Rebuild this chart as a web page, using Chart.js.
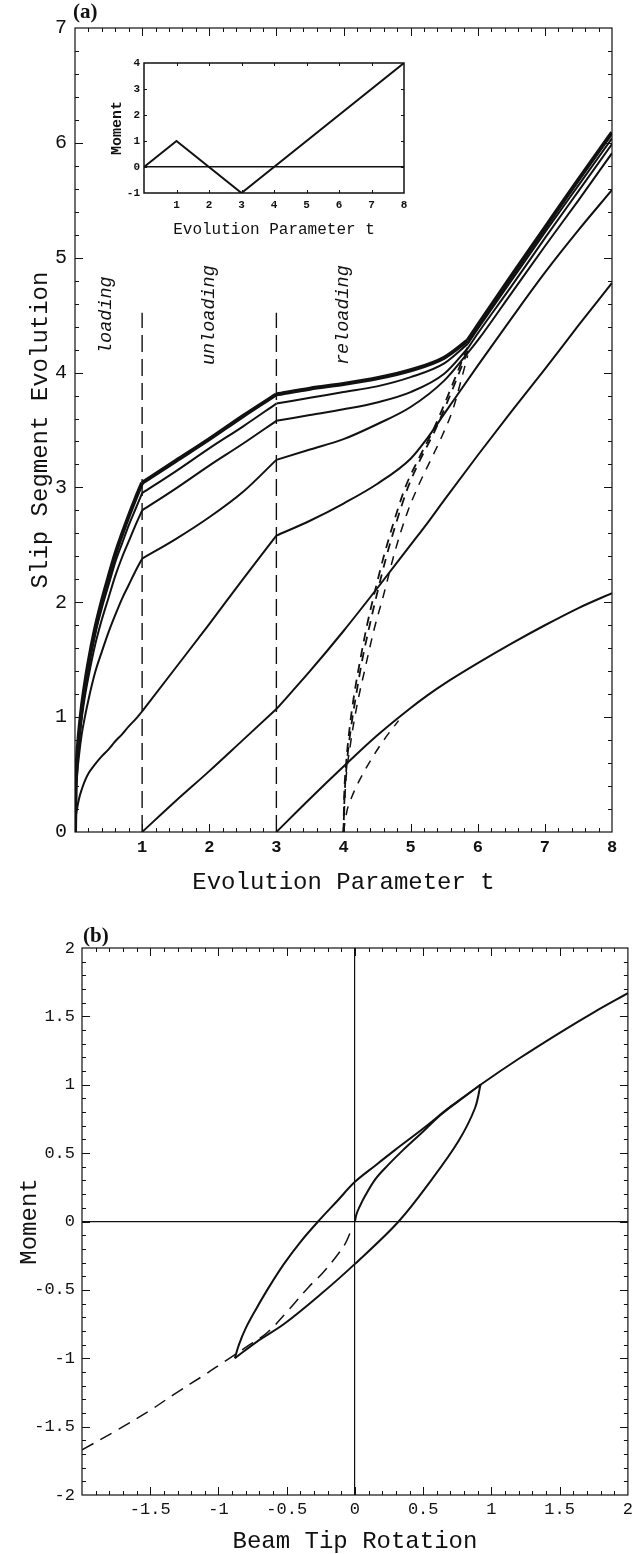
<!DOCTYPE html>
<html>
<head>
<meta charset="utf-8">
<script src="https://cdn.jsdelivr.net/npm/chart.js@4/dist/chart.umd.min.js"></script>
<style>
  html, body { margin: 0; padding: 0; background: #fff; }
  #wrap { position: relative; width: 637px; height: 1554px; }
  canvas { position: absolute; left: 0; display: block; }
  #slipChart { top: 0; }
  #insetChart { left: 100px; top: 45px; }
  #momentChart { top: 905px; }
</style>
</head>
<body>
<div id="wrap">
  <canvas id="slipChart" width="637" height="905"></canvas>
  <canvas id="insetChart" width="315" height="200"></canvas>
  <canvas id="momentChart" width="637" height="649"></canvas>
</div>
<script>
const INK = '#111';
Chart.defaults.font.family = "'Liberation Mono', 'Courier New', monospace";
Chart.defaults.color = INK;

// ---- panel (a): slip segment evolution vs t ----
const tLoad   = [0, 0.01, 0.03, 0.06, 0.1, 0.15, 0.2, 0.3, 0.4, 0.5, 0.6, 0.7, 0.8, 0.9, 1];
const tUnload = [1, 1.5, 2, 2.5, 3];
const tReload = [3, 3.5, 4, 4.5, 5, 5.5, 5.85];
const tFinal  = [5.85, 6, 6.5, 7, 7.5, 8];
const tLate   = [3, 3.5, 4, 4.5, 5, 5.25, 5.5, 6, 6.5, 7, 7.5, 8];

const seg1Load   = [0, 0.38, 0.63, 0.86, 1.08, 1.29, 1.47, 1.77, 2.01, 2.22, 2.42, 2.59, 2.75, 2.90, 3.04];
const seg1Unload = [3.04, 3.23, 3.42, 3.62, 3.81];
const seg1Reload = [3.81, 3.86, 3.90, 3.95, 4.02, 4.13, 4.28];
const seg1Final  = [4.28, 4.41, 4.84, 5.26, 5.68, 6.09];

const seg2Load   = [0, 0.37, 0.61, 0.83, 1.05, 1.25, 1.43, 1.72, 1.95, 2.15, 2.35, 2.51, 2.67, 2.81, 2.95];
const seg2Unload = [2.95, 3.14, 3.34, 3.53, 3.73];
const seg2Reload = [3.73, 3.78, 3.83, 3.88, 3.96, 4.08, 4.25];
const seg2Final  = [4.25, 4.38, 4.80, 5.22, 5.63, 6.04];

const seg3Load   = [0, 0.35, 0.58, 0.79, 0.99, 1.19, 1.35, 1.63, 1.85, 2.04, 2.23, 2.39, 2.53, 2.67, 2.80];
const seg3Unload = [2.80, 2.99, 3.19, 3.38, 3.58];
const seg3Reload = [3.58, 3.63, 3.68, 3.74, 3.83, 3.99, 4.21];
const seg3Final  = [4.21, 4.34, 4.75, 5.17, 5.58, 5.99];

const seg4Load   = [0, 0.30, 0.49, 0.67, 0.85, 1.01, 1.15, 1.39, 1.57, 1.74, 1.89, 2.03, 2.15, 2.27, 2.38];
const seg4Unload = [2.38, 2.55, 2.74, 2.96, 3.24];
const seg4Reload = [3.24, 3.33, 3.42, 3.55, 3.70, 3.93, 4.17];
const seg4Final  = [4.17, 4.28, 4.69, 5.10, 5.50, 5.91];

const seg5Load   = [0, 0.12, 0.20, 0.29, 0.37, 0.45, 0.51, 0.59, 0.66, 0.72, 0.79, 0.85, 0.92, 0.98, 1.05];
const seg5Unload = [1.05, 1.43, 1.81, 2.20, 2.58];
const seg5Late   = [2.58, 2.71, 2.86, 3.03, 3.25, 3.43, 3.64, 4.06, 4.47, 4.87, 5.24, 5.59];

const seg6Unload = [0, 0.27, 0.53, 0.80, 1.07];
const seg6Late   = [1.07, 1.40, 1.75, 2.12, 2.50, 2.69, 2.89, 3.28, 3.66, 4.03, 4.41, 4.78];

const seg7Late   = [0, 0.29, 0.57, 0.84, 1.08, 1.19, 1.29, 1.47, 1.64, 1.80, 1.95, 2.08];

// dashed reloading branches starting at t = 4
const tDashA = [4.00, 4.01, 4.04, 4.09, 4.16, 4.25, 4.35, 4.47, 4.60, 4.75, 4.92, 5.12, 5.32, 5.50, 5.66, 5.85];
const vDashA = [0, 0.30, 0.60, 0.90, 1.20, 1.50, 1.80, 2.10, 2.40, 2.70, 3.00, 3.25, 3.48, 3.72, 3.95, 4.22];
const tDashB = [4.00, 4.015, 4.05, 4.11, 4.19, 4.28, 4.39, 4.51, 4.64, 4.79, 4.96, 5.15, 5.35, 5.53, 5.69, 5.86];
const vDashB = [0, 0.30, 0.60, 0.90, 1.20, 1.50, 1.80, 2.10, 2.40, 2.70, 3.00, 3.25, 3.48, 3.72, 3.95, 4.20];
const tDashC = [4.00, 4.03, 4.10, 4.20, 4.32, 4.45, 4.60, 4.77, 4.95, 5.12, 5.30, 5.47, 5.63, 5.76, 5.85];
const vDashC = [0, 0.40, 0.75, 1.10, 1.42, 1.75, 2.07, 2.45, 2.78, 3.02, 3.24, 3.45, 3.68, 3.95, 4.15];
const tDashD = [4.00, 4.05, 4.12, 4.22, 4.40, 4.60, 4.82];
const vDashD = [0, 0.18, 0.30, 0.43, 0.62, 0.80, 0.97];

const dividerTimes = [1, 3];
const dividerTop = 4.52;
const phaseNames = ['loading', 'unloading', 'reloading'];
const phaseAt = [0.46, 2.0, 4.0];
const phaseLevel = 4.5;

// ---- inset: moment history ----
const insetT = [0, 1, 3, 8];
const insetMoment = [0, 1, -1, 4];

// ---- panel (b): moment vs beam tip rotation ----
const virginRot = [0, 0.01, 0.03, 0.07, 0.15, 0.24, 0.35, 0.48, 0.64, 0.80, 0.92, 1.2, 1.5, 1.75, 2.0];
const virginMom = [0, 0.05, 0.10, 0.18, 0.31, 0.41, 0.52, 0.64, 0.79, 0.91, 1.0, 1.19, 1.38, 1.53, 1.67];
const unloadRot = [0.92, 0.88, 0.76, 0.565, 0.32, 0.0, -0.26, -0.52, -0.72, -0.88];
const unloadMom = [1.0, 0.83, 0.59, 0.31, 0.0, -0.31, -0.54, -0.75, -0.88, -1.0];
const reloadRot = [-0.88, -0.85, -0.80, -0.73, -0.63, -0.52, -0.40, -0.27, -0.13, 0.0, 0.15, 0.29, 0.50, 0.70, 0.92];
const reloadMom = [-1.0, -0.90, -0.78, -0.65, -0.48, -0.31, -0.15, 0.0, 0.15, 0.29, 0.41, 0.52, 0.68, 0.84, 1.0];
const mirrorRot = [-2.0, -1.75, -1.5, -1.32, -1.1, -0.98, -0.8, -0.64, -0.48, -0.34, -0.24, -0.14, -0.07, -0.03];
const mirrorMom = [-1.67, -1.53, -1.38, -1.26, -1.12, -1.04, -0.92, -0.81, -0.64, -0.48, -0.38, -0.26, -0.16, -0.07];

const pts = (xs, ys) => xs.map((x, i) => ({ x, y: ys[i] }));
const line = (xs, ys, width = 2, extra = {}) => Object.assign({
  data: pts(xs, ys),
  borderColor: INK,
  borderWidth: width,
  pointRadius: 0,
  showLine: true,
  fill: false,
  cubicInterpolationMode: 'monotone'
}, extra);

// frame with inward ticks on all four sides
const frameTicks = {
  id: 'frameTicks',
  afterDatasetsDraw(chart, args, o) {
    const { ctx, chartArea: a } = chart;
    const xs = chart.scales.x, ys = chart.scales.y;
    ctx.save();
    ctx.strokeStyle = INK;
    ctx.lineWidth = o.width || 1;
    ctx.strokeRect(a.left, a.top, a.right - a.left, a.bottom - a.top);
    ctx.lineWidth = 1;
    const marks = (scale, step, len, horizontal) => {
      const n = Math.round((scale.max - scale.min) / step);
      for (let i = 1; i < n; i++) {
        const p = Math.round(scale.getPixelForValue(scale.min + i * step)) + 0.5;
        ctx.beginPath();
        if (horizontal) {
          ctx.moveTo(p, a.bottom); ctx.lineTo(p, a.bottom - len);
          ctx.moveTo(p, a.top); ctx.lineTo(p, a.top + len);
        } else {
          ctx.moveTo(a.left, p); ctx.lineTo(a.left + len, p);
          ctx.moveTo(a.right, p); ctx.lineTo(a.right - len, p);
        }
        ctx.stroke();
      }
    };
    if (o.xMinor) marks(xs, o.xMinor, o.minor, true);
    marks(xs, o.xMajor, o.major, true);
    if (o.yMinor) marks(ys, o.yMinor, o.minor, false);
    marks(ys, o.yMajor, o.major, false);
    ctx.restore();
  }
};

const panelTag = {
  id: 'panelTag',
  afterDraw(chart, args, o) {
    if (!o.text) return;
    const { ctx, chartArea: a } = chart;
    ctx.save();
    ctx.font = "bold 21px 'Liberation Serif', serif";
    ctx.fillStyle = INK;
    ctx.textBaseline = 'bottom';
    ctx.fillText(o.text, a.left + o.dx, a.top + o.dy);
    ctx.restore();
  }
};

const phaseLabels = {
  id: 'phaseLabels',
  afterDatasetsDraw(chart, args, o) {
    if (!o.names) return;
    const { ctx, scales: { x, y } } = chart;
    ctx.save();
    ctx.font = "italic 18.5px 'Liberation Mono', monospace";
    ctx.fillStyle = INK;
    ctx.textAlign = 'center';
    ctx.textBaseline = 'middle';
    o.names.forEach((name, i) => {
      ctx.save();
      ctx.translate(x.getPixelForValue(o.at[i]), y.getPixelForValue(o.level));
      ctx.rotate(-Math.PI / 2);
      ctx.fillText(name, 0, 0);
      ctx.restore();
    });
    ctx.restore();
  }
};

const zeroLine = c => (c.tick && c.tick.value === 0 ? INK : 'rgba(0,0,0,0)');

// ---------- chart (a) ----------
const slipSets = [];
[
  [seg1Load, seg1Unload, seg1Reload, seg1Final, 4],
  [seg2Load, seg2Unload, seg2Reload, seg2Final, 2],
  [seg3Load, seg3Unload, seg3Reload, seg3Final, 2],
  [seg4Load, seg4Unload, seg4Reload, seg4Final, 2]
].forEach(([a, b, c, d, w]) => {
  slipSets.push(line(tLoad, a, w), line(tUnload, b, w), line(tReload, c, w), line(tFinal, d, w));
});
slipSets.push(line(tLoad, seg5Load), line(tUnload, seg5Unload), line(tLate, seg5Late));
slipSets.push(line(tUnload, seg6Unload), line(tLate, seg6Late));
slipSets.push(line(tLate, seg7Late));
slipSets.push(line(tDashA, vDashA, 1.8, { borderDash: [9, 7] }));
slipSets.push(line(tDashB, vDashB, 1.8, { borderDash: [9, 7], borderDashOffset: 4 }));
slipSets.push(line(tDashC, vDashC, 1.5, { borderDash: [9, 8] }));
slipSets.push(line(tDashD, vDashD, 1.5, { borderDash: [9, 8] }));
dividerTimes.forEach(t => {
  slipSets.push(line([t, t], [0, dividerTop], 1.4, { borderDash: [17, 7], cubicInterpolationMode: 'default', tension: 0 }));
});

new Chart(document.getElementById('slipChart'), {
  type: 'scatter',
  data: { datasets: slipSets },
  plugins: [frameTicks, panelTag, phaseLabels],
  options: {
    responsive: false,
    animation: false,
    layout: { padding: { top: 28, right: 25, left: 0, bottom: 0 } },
    plugins: {
      legend: { display: false },
      tooltip: { enabled: false },
      frameTicks: { xMajor: 1, xMinor: 0.2, yMajor: 1, yMinor: 0.2, major: 8, minor: 4, width: 1.2 },
      panelTag: { text: '(a)', dx: -2, dy: -5 },
      phaseLabels: { names: phaseNames, at: phaseAt, level: phaseLevel }
    },
    scales: {
      x: {
        type: 'linear', min: 0, max: 8,
        afterFit(s) { s.height = 73; },
        grid: { display: false, drawTicks: false },
        border: { display: false },
        ticks: { stepSize: 1, padding: 6, maxRotation: 0, autoSkip: false,
                 font: { size: 17, weight: 'bold' }, callback: v => (v === 0 ? '' : String(v)) },
        title: { display: true, text: 'Evolution Parameter t', font: { size: 24 }, padding: { top: 0, bottom: 8 } }
      },
      y: {
        type: 'linear', min: 0, max: 7,
        afterFit(s) { s.width = 75; },
        grid: { display: false, drawTicks: false },
        border: { display: false },
        ticks: { stepSize: 1, padding: 8, font: { size: 20 }, callback: v => String(v) },
        title: { display: true, text: 'Slip Segment Evolution', font: { size: 24 }, padding: { top: 26, bottom: 0 } }
      }
    }
  }
});

// ---------- inset ----------
new Chart(document.getElementById('insetChart'), {
  type: 'scatter',
  data: { datasets: [line(insetT, insetMoment, 2, { cubicInterpolationMode: 'default', tension: 0 })] },
  plugins: [frameTicks],
  options: {
    responsive: false,
    animation: false,
    layout: { padding: { top: 18, right: 11, left: 0, bottom: 0 } },
    plugins: {
      legend: { display: false },
      tooltip: { enabled: false },
      frameTicks: { xMajor: 1, yMajor: 1, major: 3, width: 1.5 }
    },
    scales: {
      x: {
        type: 'linear', min: 0, max: 8,
        afterFit(s) { s.height = 52; },
        grid: { display: false, drawTicks: false },
        border: { display: false },
        ticks: { stepSize: 1, padding: 6, maxRotation: 0, autoSkip: false,
                 font: { size: 11, weight: 'bold' }, callback: v => (v === 0 ? '' : String(v)) },
        title: { display: true, text: 'Evolution Parameter t', font: { size: 16 }, padding: { top: 0, bottom: 6 } }
      },
      y: {
        type: 'linear', min: -1, max: 4,
        afterFit(s) { s.width = 44; },
        grid: { color: zeroLine, lineWidth: 1.5, drawTicks: false },
        border: { display: false },
        ticks: { stepSize: 1, padding: 4, font: { size: 11, weight: 'bold' }, callback: v => String(v) },
        title: { display: true, text: 'Moment', font: { size: 15, weight: 'bold' }, padding: { top: 8, bottom: 0 } }
      }
    }
  }
});

// ---------- chart (b) ----------
new Chart(document.getElementById('momentChart'), {
  type: 'scatter',
  data: {
    datasets: [
      line(virginRot, virginMom, 2, { cubicInterpolationMode: 'default', tension: 0.35 }),
      line(unloadRot, unloadMom, 2, { cubicInterpolationMode: 'default', tension: 0.35 }),
      line(reloadRot, reloadMom, 2, { cubicInterpolationMode: 'default', tension: 0.35 }),
      line(mirrorRot, mirrorMom, 1.5, { cubicInterpolationMode: 'default', tension: 0.35, borderDash: [13, 8] })
    ]
  },
  plugins: [frameTicks, panelTag],
  options: {
    responsive: false,
    animation: false,
    layout: { padding: { top: 43, right: 7, left: 0, bottom: 0 } },
    plugins: {
      legend: { display: false },
      tooltip: { enabled: false },
      frameTicks: { xMajor: 0.5, xMinor: 0.1, yMajor: 0.5, yMinor: 0.1, major: 8, minor: 4, width: 1.2 },
      panelTag: { text: '(b)', dx: 1, dy: -1 }
    },
    scales: {
      x: {
        type: 'linear', min: -2, max: 2,
        afterFit(s) { s.height = 59; },
        grid: { color: zeroLine, lineWidth: 1.2, drawTicks: false },
        border: { display: false },
        ticks: { stepSize: 0.5, padding: 4, maxRotation: 0, autoSkip: false,
                 font: { size: 17 }, callback: v => (v === -2 ? '' : String(v)) },
        title: { display: true, text: 'Beam Tip Rotation', font: { size: 24, lineHeight: 1 }, padding: { top: 0, bottom: 0 } }
      },
      y: {
        type: 'linear', min: -2, max: 2,
        afterFit(s) { s.width = 82; },
        grid: { color: zeroLine, lineWidth: 1.2, drawTicks: false },
        border: { display: false },
        ticks: { stepSize: 0.5, padding: 7, font: { size: 17 }, callback: v => String(v) },
        title: { display: true, text: 'Moment', font: { size: 24 }, padding: { top: 15, bottom: 0 } }
      }
    }
  }
});
</script>
</body>
</html>
